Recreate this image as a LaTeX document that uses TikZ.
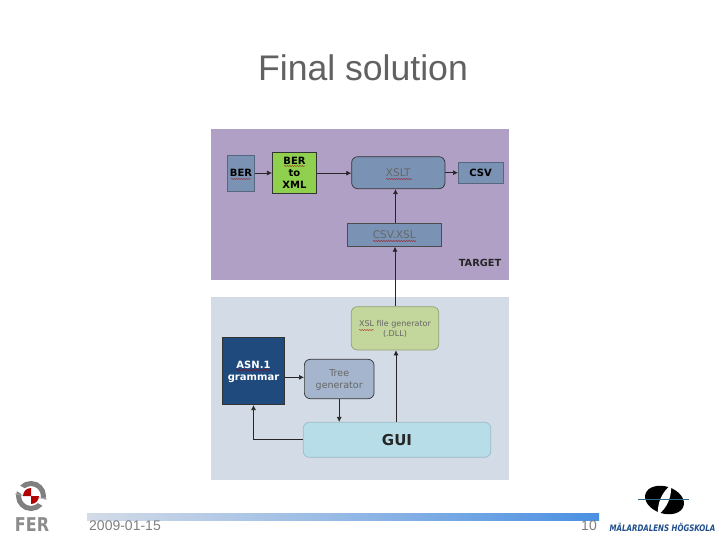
\documentclass[tikz,border=0pt]{standalone}
\usepackage{fontspec}
\setmainfont{Liberation Sans}
\newfontfamily\boxfont{DejaVu Sans}
\usepackage{xcolor}
\definecolor{targetpurple}{HTML}{B0A0C6}
\definecolor{hostgrey}{HTML}{D3DBE7}
\definecolor{slateblue}{HTML}{7A92B4}
\definecolor{bergreen}{HTML}{8FD14F}
\definecolor{asnnavy}{HTML}{1F4A7E}
\definecolor{treeblue}{HTML}{A4B5CD}
\definecolor{guicyan}{HTML}{B7DDE8}
\definecolor{xslolive}{HTML}{C3D69B}
\definecolor{footgrey}{HTML}{808080}
\definecolor{barblue}{HTML}{4A90E2}
\definecolor{mdhblue}{HTML}{1F4E8C}
\definecolor{mdhline}{HTML}{2F6A85}
\usetikzlibrary{arrows.meta, positioning, calc, decorations.pathmorphing}
\tikzset{
  flatbox/.style={draw=#1!70!black, fill=#1, line width=0.7pt, inner sep=0pt, align=center, text depth=0pt, font=\boxfont\bfseries\fontsize{10}{12}\selectfont},
  softbox/.style={flatbox=#1, rounded corners=6pt},
  wire/.style={draw=black!85, line width=0.7pt, -{Latex[length=5pt,width=5pt]}},
  spell/.style={draw=red!65!black, line width=0.4pt, decorate, decoration={snake, amplitude=0.4pt, segment length=2.5pt}}
}
\begin{document}
\begin{tikzpicture}[x=1pt, y=-1pt]
  \useasboundingbox (0,0) rectangle (720,540);
  \fill[white] (0,0) rectangle (720,540);
  \node[font=\fontsize{35.6}{40}\selectfont, text=black!62] (title) at (363,68) {Final solution};
  % panels
  \fill[targetpurple] (211,129) rectangle (509,280);
  \fill[hostgrey] (211,297) rectangle (509,480);
  \node[font=\boxfont\bfseries\fontsize{9.8}{10}\selectfont, text=black!85] (target) at (480,262.5) {TARGET};
  % boxes
  \node[flatbox=slateblue, minimum width=27.4pt, minimum height=36pt] (ber) at (241,173) {BER};
  \node[flatbox=bergreen, draw=black!80, minimum width=44.4pt, minimum height=41pt] (bertoxml) at (294.5,173.2) {BER\\to\\XML};
  \node[softbox=slateblue, draw=black!80, minimum width=93.3pt, minimum height=32pt, font=\boxfont\fontsize{10.5}{12}\selectfont, text=black!60] (xslt) at (398.3,172.7) {XSLT};
  \node[flatbox=slateblue, minimum width=44.7pt, minimum height=21.4pt] (csv) at (480.7,173) {CSV};
  \node[flatbox=slateblue, draw=black!70, minimum width=93.7pt, minimum height=23.3pt, font=\boxfont\fontsize{10.5}{12}\selectfont, text=black!60] (csvxsl) at (394.2,234.7) {CSV.XSL};
  \node[softbox=xslolive, draw=xslolive!75!black, minimum width=87.4pt, minimum height=43.3pt, font=\boxfont\fontsize{8}{10}\selectfont, text=black!60] (xslgen) at (395,328.3) {XSL file generator\\(.DLL)};
  \node[flatbox=asnnavy, draw=black!80, text=white, minimum width=62.4pt, minimum height=67.4pt] (asn) at (253.5,371) {ASN.1\\grammar};
  \node[softbox=treeblue, draw=black!80, minimum width=69.7pt, minimum height=39.4pt, font=\boxfont\fontsize{9.5}{12.5}\selectfont, text=black!60] (tree) at (339.2,379) {Tree\\generator};
  \node[softbox=guicyan, draw=guicyan!85!black, minimum width=187.4pt, minimum height=35pt, font=\boxfont\bfseries\fontsize{15}{17}\selectfont, text=black!85] (gui) at (397,439.8) {GUI};
  % connectors
  \draw[wire] (ber.east) -- (ber.east -| bertoxml.west);
  \draw[wire] (bertoxml.east) -- (bertoxml.east -| xslt.west);
  \draw[wire] (xslt.east) -- (xslt.east -| csv.west);
  \draw[wire] (csvxsl.north -| 395.5,0) -- (395.5,0 |- xslt.south);
  \draw[wire] (xslgen.north) -- (xslgen.north |- csvxsl.south);
  \draw[wire] (asn.east |- 0,377.3) -- (tree.west |- 0,377.3);
  \draw[wire] (tree.south) -- (tree.south |- gui.north);
  \draw[wire] (gui.north -| 396,0) -- (396,0 |- xslgen.south);
  \draw[wire] (gui.west) -| (asn.south);
  % spell-check underlines
  \foreach \xa/\xb/\ya in {231/251/179, 284/305/166, 386/412/179, 373/416/241, 359/374/330, 236/270.5/370}
    \draw[spell] (\xa,\ya) -- (\xb,\ya);
  % footer
  \shade[left color=hostgrey, right color=barblue, middle color=hostgrey!55!barblue] (87,513) rectangle (599,520);
  \node[font=\fontsize{14}{15}\selectfont, text=footgrey, anchor=west, inner sep=0pt] (date) at (89,526) {2009-01-15};
  \node[font=\fontsize{14}{15}\selectfont, text=footgrey, anchor=east, inner sep=0pt] (page) at (597,526) {10};
  % FER logo
  \draw[black!50, line width=5pt] (31,496) circle (12.5pt);
  \fill[white] (13,489) -- (17,484) -- (49,502) -- (45,507) -- cycle;
  \draw[black!35, line width=0.8pt] (15,494) -- (47,499);
  \fill[white] (31,496) circle (8pt);
  \fill[red!70!black] (31,496) -- (31,488) arc[start angle=90, end angle=180, radius=8pt] -- cycle;
  \fill[red!70!black] (31,496) -- (31,504) arc[start angle=270, end angle=360, radius=8pt] -- cycle;
  \node[font=\boxfont\bfseries\fontsize{19}{19}\selectfont, text=black!45, inner sep=0pt] (fer) at (32,524.5) {\scalebox{0.84}[1]{FER}};
  % MDH logo
  \fill[black, rotate around={-18:(664.5,500)}] (664.5,500) ellipse (20pt and 13.5pt);
  \fill[white] (671,485) .. controls (662,492) and (657,503) .. (658,515) .. controls (667,508) and (672,497) .. (671,485) -- cycle;
  \draw[mdhline, line width=1.2pt] (638,499.5) -- (689,499.5);
  \node[font=\boxfont\bfseries\itshape\fontsize{8.5}{10}\selectfont, text=mdhblue, inner sep=0pt] (mdh) at (662.5,527) {\scalebox{0.83}[1.05]{MÄLARDALENS HÖGSKOLA}};
\end{tikzpicture}
\end{document}
